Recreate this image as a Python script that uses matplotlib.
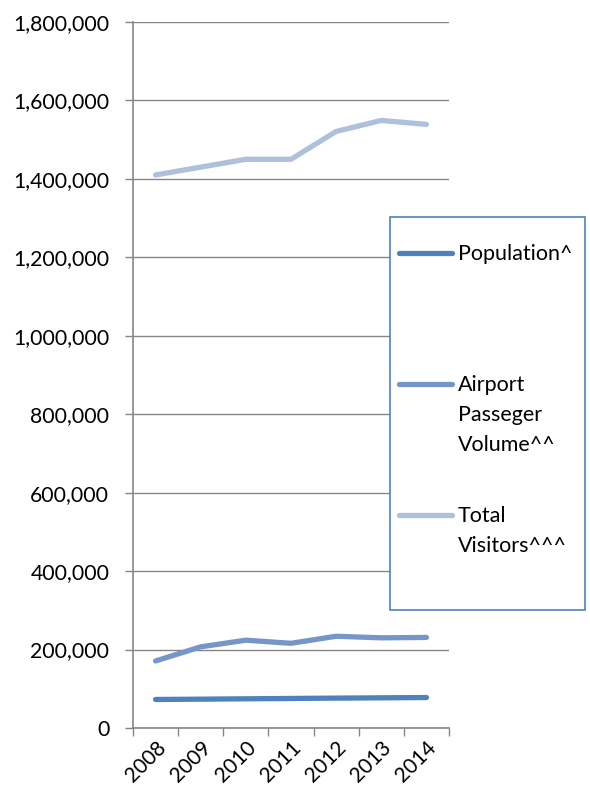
import numpy as np
import matplotlib.pyplot as plt
from matplotlib.lines import Line2D
from matplotlib.patches import Rectangle
from matplotlib.ticker import FuncFormatter, FixedLocator

plt.rcParams['font.family'] = ['Lato', 'DejaVu Sans']

# yearly figures
years = ['2008', '2009', '2010', '2011', '2012', '2013', '2014']
population = [72800, 73600, 74500, 75400, 76300, 77000, 77800]
airport = [171000, 207000, 224000, 216000, 234000, 230000, 231000]
visitors = [1410000, 1430000, 1450000, 1450000, 1521000, 1549000, 1539000]

series_labels = [['Population^'], ['Airport', 'Passeger', 'Volume^^'], ['Total', 'Visitors^^^']]
series_colors = ['#4f81bd', '#7696c9', '#adc0dc']

fig = plt.figure(figsize=(5.9, 7.91), dpi=100)
ax = fig.add_axes([0.2254, 0.0796, 0.5356, 0.8926])

x = np.arange(len(years))
for vals, col in zip([population, airport, visitors], series_colors):
    ax.plot(x, vals, color=col, lw=3.8, solid_capstyle='round', zorder=3)

ax.set_xlim(-0.5, len(years) - 0.5)
ax.set_ylim(0, 1800000)
ax.set_yticks(np.arange(0, 1800001, 200000))
ax.yaxis.set_major_formatter(FuncFormatter(lambda v, p: f'{int(v):,}'))
ax.grid(axis='y', color='#868686', lw=1)
ax.set_axisbelow(True)

# year labels under each category, tick marks between categories
ax.set_xticks(x)
ax.set_xticklabels(years, rotation=45, ha='right', rotation_mode='anchor')
ax.xaxis.set_minor_locator(FixedLocator(np.arange(-0.5, len(years), 1.0)))
ax.tick_params(axis='x', which='major', length=0, pad=7, labelsize=15)
ax.tick_params(axis='x', which='minor', length=6, color='#868686', width=1)
ax.tick_params(axis='y', length=6, color='#868686', width=1, labelsize=15.3, pad=11)

for s in ['top', 'right']:
    ax.spines[s].set_visible(False)
for s in ['left', 'bottom']:
    ax.spines[s].set_color('#868686')
    ax.spines[s].set_linewidth(1.2)

# legend box, each entry gets three text lines
W, H = 590, 791
fig.patches.append(Rectangle((390 / W, 1 - 610 / H), 195 / W, 393 / H,
                             transform=fig.transFigure, facecolor='white',
                             edgecolor='#4f81bd', lw=1.2, zorder=5))
for i, (lines, col) in enumerate(zip(series_labels, series_colors)):
    ypx = 253 + i * 131
    fig.lines.append(Line2D([399 / W, 452 / W], [1 - ypx / H, 1 - ypx / H],
                            transform=fig.transFigure, color=col, lw=3.8,
                            solid_capstyle='round', zorder=6))
    for j, txt in enumerate(lines):
        fig.text(458 / W, 1 - (ypx + 7 + j * 30) / H, txt, va='baseline',
                 fontsize=15.5, zorder=6, transform=fig.transFigure)

fig.savefig('out.png', dpi=100)
